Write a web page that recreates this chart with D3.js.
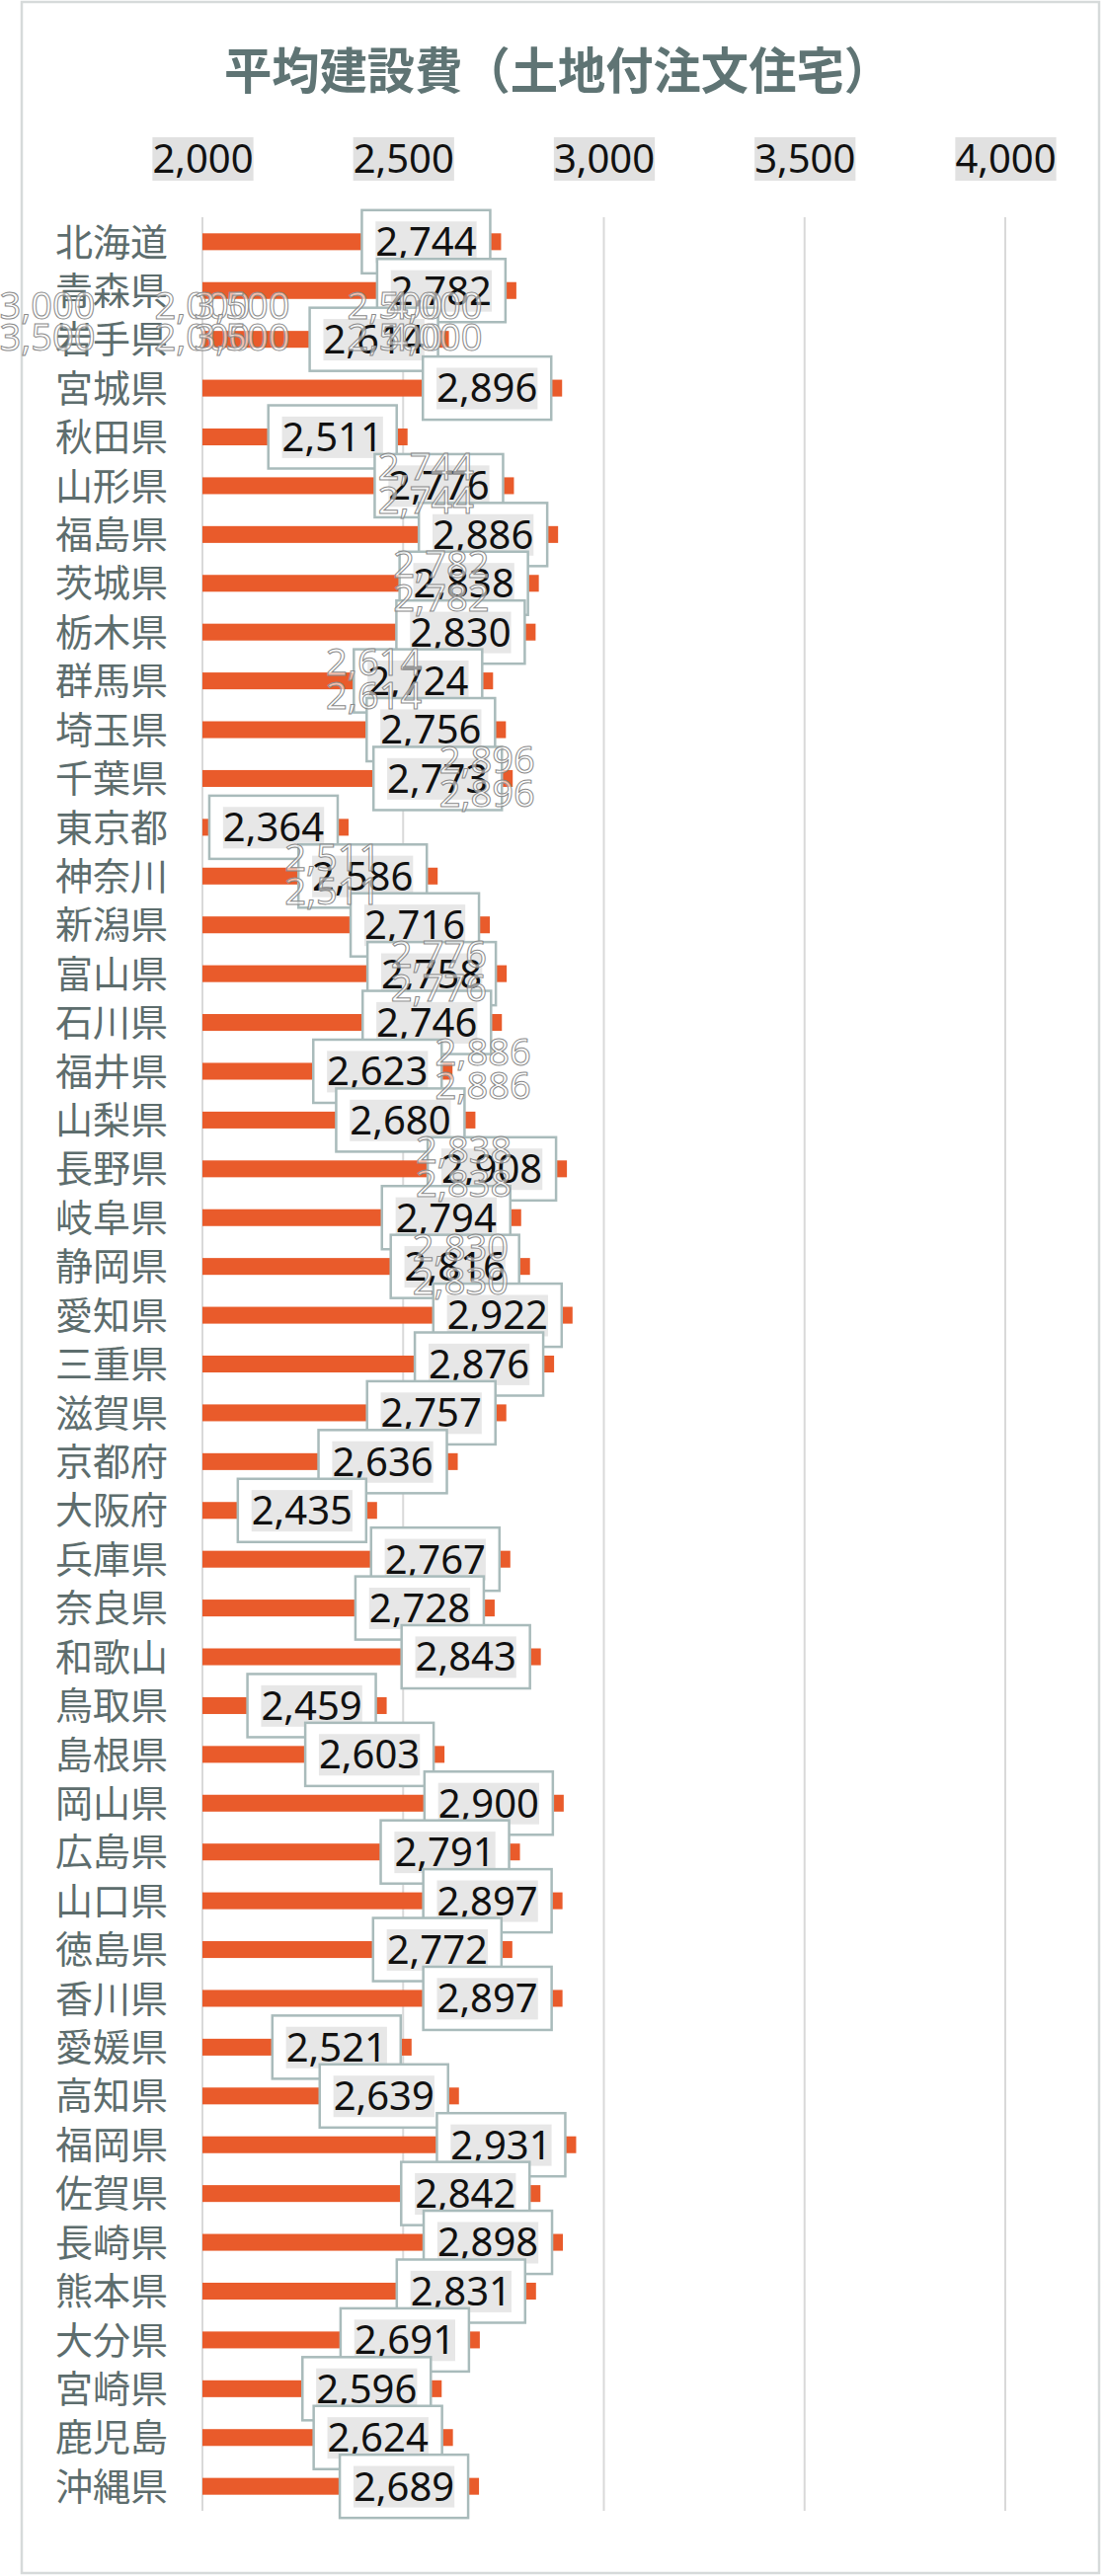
<!DOCTYPE html>
<html>
<head>
<meta charset="utf-8">
<script src="https://cdn.jsdelivr.net/npm/d3@7"></script>
<style>
  body { margin: 0; background: #fff; }
</style>
</head>
<body>
<div id="chart"></div>
<script>
let prefectures = ["北海道","青森県","岩手県","宮城県","秋田県","山形県","福島県","茨城県","栃木県","群馬県",
  "埼玉県","千葉県","東京都","神奈川","新潟県","富山県","石川県","福井県","山梨県","長野県",
  "岐阜県","静岡県","愛知県","三重県","滋賀県","京都府","大阪府","兵庫県","奈良県","和歌山",
  "鳥取県","島根県","岡山県","広島県","山口県","徳島県","香川県","愛媛県","高知県","福岡県",
  "佐賀県","長崎県","熊本県","大分県","宮崎県","鹿児島","沖縄県"]

let costs = [2744,2782,2614,2896,2511,2776,2886,2838,2830,2724,
  2756,2773,2364,2586,2716,2758,2746,2623,2680,2908,
  2794,2816,2922,2876,2757,2636,2435,2767,2728,2843,
  2459,2603,2900,2791,2897,2772,2897,2521,2639,2931,
  2842,2898,2831,2691,2596,2624,2689]

let tickValues = [2000,2500,3000,3500,4000]

let title = "平均建設費（土地付注文住宅）"

let data = prefectures.map((p, i) => ({place: p, cost: costs[i], i: i}))

let width = 1119
let height = 2609
let margin = {top: 220, right: 101, bottom: 66, left: 205}

let svg = d3.select("#chart")
  .append("svg")
  .attr("width", width)
  .attr("height", height)

svg.append("rect")
  .attr("x", 22).attr("y", 2)
  .attr("width", 1091).attr("height", 2604)
  .attr("fill", "#fff")
  .attr("stroke", "#d6dada")
  .attr("stroke-width", 2.5)

let x = d3.scaleLinear()
  .domain([2000, 4000])
  .range([margin.left, width - margin.right])

let y = d3.scaleBand()
  .domain(prefectures)
  .range([margin.top, height - margin.bottom])
  .paddingInner(0.655)
  .paddingOuter(0.33)

let fmt = d3.format(",")
let numFont = "'Noto Sans', 'Open Sans', sans-serif"
let cjkFont = "'Noto Sans CJK JP', 'Noto Sans', sans-serif"

svg.append("text")
  .attr("x", 565)
  .attr("y", 72)
  .attr("dy", "0.35em")
  .attr("text-anchor", "middle")
  .attr("textLength", 676)
  .attr("lengthAdjust", "spacingAndGlyphs")
  .style("font", `bold 50px ${cjkFont}`)
  .attr("fill", "#5f7474")
  .text(title)

// gridlines
svg.append("g")
  .selectAll("line")
  .data(tickValues)
  .enter().append("line")
    .attr("x1", d => x(d)).attr("x2", d => x(d))
    .attr("y1", margin.top).attr("y2", height - margin.bottom)
    .attr("stroke", "#d9d9d9")
    .attr("stroke-width", 2)

// top axis labels with the grey patch behind them
let xAxis = g => g
  .attr("transform", `translate(0,161)`)
  .call(d3.axisTop(x).tickValues(tickValues).tickFormat(fmt).tickSize(0).tickPadding(0))
  .call(g => g.select(".domain").remove())
  .call(g => g.selectAll("text")
    .attr("dy", "0.35em")
    .attr("fill", "#111")
    .style("font", `40px ${numFont}`))

let axisG = svg.append("g").call(xAxis)
axisG.selectAll(".tick").each(function() {
  let t = d3.select(this).select("text")
  let b = t.node().getBBox()
  d3.select(this).insert("rect", "text")
    .attr("x", b.x).attr("y", b.y + 7)
    .attr("width", b.width).attr("height", b.height - 11)
    .attr("fill", "#c4c4c4")
    .attr("opacity", 0.5)
})

// category labels
svg.append("g")
  .attr("text-anchor", "end")
  .style("font", `38px ${cjkFont}`)
  .attr("fill", "#5d6d6d")
  .selectAll("text")
  .data(data)
  .enter().append("text")
    .attr("x", 170)
    .attr("y", d => y(d.place) + y.bandwidth() / 2)
    .attr("dy", "0.36em")
    .text(d => d.place)

// bars
svg.append("g")
  .selectAll("rect")
  .data(data)
  .enter().append("rect")
    .attr("x", x(2000))
    .attr("y", d => y(d.place))
    .attr("width", d => x(d.cost) - x(2000))
    .attr("height", y.bandwidth())
    .attr("fill", "#e95b2b")

// data labels in boxes, drawn in row order so later boxes overlap earlier ones
let boxW = 130
let boxH = 64
let labels = svg.append("g")
data.forEach(d => {
  let cx = x(d.cost) - 76
  let cy = y(d.place) + y.bandwidth() / 2
  let g = labels.append("g")
  g.append("rect")
    .attr("x", cx - boxW / 2).attr("y", cy - boxH / 2)
    .attr("width", boxW).attr("height", boxH)
    .attr("fill", "#fff")
    .attr("stroke", "#a9bbbb")
    .attr("stroke-width", 2.5)
  let t = g.append("text")
    .attr("x", cx)
    .attr("y", cy)
    .attr("dy", "0.36em")
    .attr("text-anchor", "middle")
    .style("font", `40px ${numFont}`)
    .attr("fill", "#111")
    .text(fmt(d.cost))
  let b = t.node().getBBox()
  g.insert("rect", "text")
    .attr("x", b.x).attr("y", b.y + 8)
    .attr("width", b.width).attr("height", b.height - 13)
    .attr("fill", "#cfcfcf")
    .attr("opacity", 0.5)
})

// ghost copies of the labels left over in the picture
let ghosts = svg.append("g")
  .style("font", `38px ${numFont}`)
  .attr("fill", "#fff")
  .attr("fill-opacity", 0.6)
  .attr("stroke", "#8a8a8a")
  .attr("stroke-width", 1)
  .attr("text-anchor", "middle")

data.slice(0, 9).forEach(d => {
  let row = prefectures[2 * d.i + 5]
  let cy = y(row) + y.bandwidth() / 2
  ;[-19, 15].forEach(off => {
    ghosts.append("text")
      .attr("x", x(d.cost) - 76)
      .attr("y", cy + off)
      .attr("dy", "0.35em")
      .text(fmt(d.cost))
  })
})

let ghostTicksTop = [3000, 2000, 3500, 2500, 4000]
let ghostTicksBottom = [3500, 2000, 3500, 2500, 4000]
let ghostX = [48, 205, 245, 400, 440]
let ghostRow = y(prefectures[2]) + y.bandwidth() / 2
ghostTicksTop.forEach((v, i) => {
  ghosts.append("text")
    .attr("x", ghostX[i]).attr("y", ghostRow - 34)
    .attr("dy", "0.35em")
    .text(fmt(v))
})
ghostTicksBottom.forEach((v, i) => {
  ghosts.append("text")
    .attr("x", ghostX[i]).attr("y", ghostRow - 2)
    .attr("dy", "0.35em")
    .text(fmt(v))
})
</script>
</body>
</html>
